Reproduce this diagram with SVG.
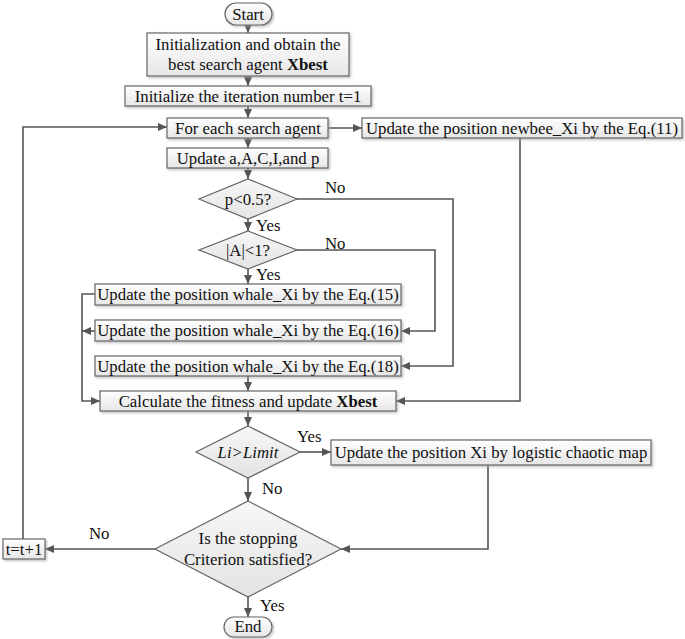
<svg xmlns="http://www.w3.org/2000/svg" width="685" height="639" viewBox="0 0 685 639">
<style>
text{font-family:"Liberation Serif","Times New Roman",serif;font-size:16.8px;fill:#111}
.c{text-anchor:middle}
.box{fill:url(#g);stroke:#666;stroke-width:1.2;filter:url(#sh)}
.dia{fill:url(#gd);stroke:#666;stroke-width:1.2}
.ln{fill:none;stroke:#555;stroke-width:1.6}
.ar{fill:none;stroke:#555;stroke-width:1.6;marker-end:url(#ah)}
</style>
<defs>
<linearGradient id="g" x1="0" y1="0" x2="0" y2="1"><stop offset="0" stop-color="#ffffff"/><stop offset="1" stop-color="#e6e6e6"/></linearGradient>
<linearGradient id="gd" x1="0" y1="0" x2="0" y2="1"><stop offset="0" stop-color="#f7f7f7"/><stop offset="1" stop-color="#e3e3e3"/></linearGradient>
<filter id="sh" x="-5%" y="-20%" width="110%" height="150%"><feDropShadow dx="1.5" dy="1.5" stdDeviation="0.8" flood-color="#999" flood-opacity="0.6"/></filter>
<marker id="ah" markerUnits="userSpaceOnUse" markerWidth="10" markerHeight="10" refX="9" refY="5" orient="auto"><path d="M0,1 L9,5 L0,9 Z" fill="#555"/></marker>
</defs>

<g id="connectors">
<path class="ar" d="M248,25 V33"/>
<path class="ar" d="M248,76 V86"/>
<path class="ar" d="M248,106 V118"/>
<path class="ar" d="M248,138 V148"/>
<path class="ar" d="M248,168 V179"/>
<path class="ar" d="M328,128 H362"/>
<path class="ar" d="M248,219 V231"/>
<path class="ar" d="M296,199 H453 V366 H401"/>
<path class="ar" d="M296,250 H435 V331 H401"/>
<path class="ar" d="M248,269 V284"/>
<path class="ar" d="M95,294 H82 V401 H100"/>
<path class="ar" d="M95,331 H82"/>
<path class="ar" d="M248,376 V391"/>
<path class="ar" d="M520,138 V401 H396"/>
<path class="ar" d="M248,411 V426"/>
<path class="ar" d="M299,452 H331"/>
<path class="ar" d="M488,465 V549 H341"/>
<path class="ar" d="M248,478 V501"/>
<path class="ar" d="M155,549 H45"/>
<path class="ar" d="M23,539 V127 H167"/>
<path class="ar" d="M248,597 V617"/>
<text x="325" y="193">No</text>
<text x="256" y="231">Yes</text>
<text x="325" y="249">No</text>
<text x="256" y="280">Yes</text>
<text x="297" y="442">Yes</text>
<text x="262" y="494">No</text>
<text x="89" y="539">No</text>
<text x="260" y="611">Yes</text>
</g>

<g id="start"><rect class="box" x="225" y="3" width="47" height="22" rx="11"/><text class="c" x="248" y="19.5">Start</text></g>
<g id="init"><rect class="box" x="147" y="33" width="202" height="43"/><text class="c" x="248" y="50">Initialization and obtain the</text><text class="c" x="248" y="70">best search agent <tspan font-weight="bold">Xbest</tspan></text></g>
<g id="iter"><rect class="box" x="125" y="86" width="246" height="20"/><text class="c" x="248" y="101.5">Initialize the iteration number t=1</text></g>
<g id="foreach"><rect class="box" x="167" y="118" width="161" height="20"/><text class="c" x="248" y="133.5">For each search agent</text></g>
<g id="newbee"><rect class="box" x="362" y="118" width="320" height="20"/><text class="c" x="522" y="133.5">Update the position newbee_Xi by the Eq.(11)</text></g>
<g id="updp"><rect class="box" x="167" y="148" width="161" height="20"/><text class="c" x="248" y="163.5">Update a,A,C,I,and p</text></g>
<g id="dp"><polygon class="dia" points="248,179 297,199 248,219 199,199"/><text class="c" x="248" y="204.5">p&lt;0.5?</text></g>
<g id="da"><polygon class="dia" points="248,231 297,250 248,269 199,250"/><text class="c" x="248" y="255.5">|A|&lt;1?</text></g>
<g id="eq15"><rect class="box" x="95" y="284" width="306" height="21"/><text class="c" x="248" y="300">Update the position whale_Xi by the Eq.(15)</text></g>
<g id="eq16"><rect class="box" x="95" y="320" width="306" height="21"/><text class="c" x="248" y="336">Update the position whale_Xi by the Eq.(16)</text></g>
<g id="eq18"><rect class="box" x="95" y="356" width="306" height="20"/><text class="c" x="248" y="371.5">Update the position whale_Xi by the Eq.(18)</text></g>
<g id="calc"><rect class="box" x="100" y="391" width="296" height="20"/><text class="c" x="248" y="406.5">Calculate the fitness and update <tspan font-weight="bold">Xbest</tspan></text></g>
<g id="dli"><polygon class="dia" points="248,426 300,452 248,478 196,452"/><text class="c" x="248" y="457.5" font-style="italic">Li&gt;Limit</text></g>
<g id="logistic"><rect class="box" x="331" y="440" width="320" height="25"/><text class="c" x="491" y="458">Update the position Xi by logistic chaotic map</text></g>
<g id="dstop"><polygon class="dia" points="248,501 341,549 248,597 155,549"/><text class="c" x="248" y="544">Is the stopping</text><text class="c" x="248" y="565">Criterion satisfied?</text></g>
<g id="tinc"><rect class="box" x="3" y="539" width="42" height="20"/><text class="c" x="24" y="554.5">t=t+1</text></g>
<g id="end"><rect class="box" x="224" y="617" width="48" height="20" rx="10"/><text class="c" x="248" y="632">End</text></g>
</svg>
